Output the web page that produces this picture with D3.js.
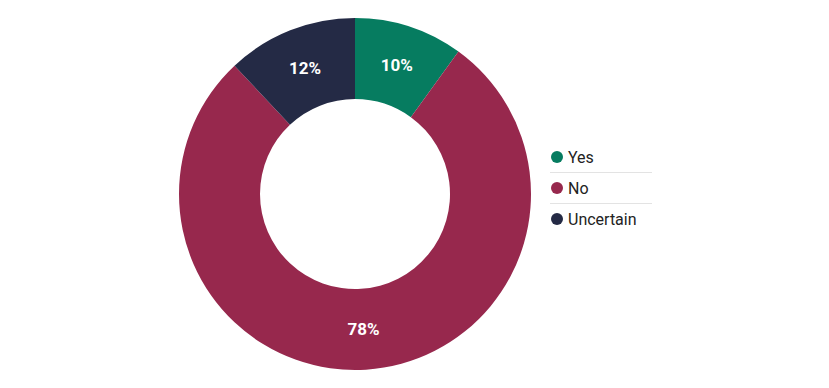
<!DOCTYPE html>
<html><head><meta charset="utf-8">
<script src="https://cdn.jsdelivr.net/npm/d3@7"></script>
<style>body{margin:0;background:#fff;}svg{display:block;font-family:Roboto,"Noto Sans",sans-serif;}</style>
</head><body>
<svg id="c" width="829" height="388"></svg>
<script>
const categories = ["Yes", "No", "Uncertain"];
const values = [10, 78, 12];
const colors = ["#067c60", "#97284d", "#242a45"];

const svg = d3.select("#c");
const cx = 355, cy = 194, outerR = 176, innerR = 95;
const g = svg.append("g").attr("transform", `translate(${cx},${cy})`);
const data = categories.map((c, i) => ({cat: c, value: values[i], color: colors[i]}));
const pie = d3.pie().value(d => d.value).sort(null);
const arc = d3.arc().innerRadius(innerR).outerRadius(outerR);
const arcs = pie(data);
g.selectAll("path").data(arcs).enter().append("path")
  .attr("d", arc).attr("fill", d => d.data.color);
g.selectAll("text").data(arcs).enter().append("text")
  .attr("transform", d => `translate(${arc.centroid(d)})`)
  .attr("text-anchor", "middle").attr("dy", "0.35em")
  .attr("fill", "#fff").attr("font-size", 17).attr("font-weight", "bold")
  .text(d => d.data.value + "%");

const lg = svg.append("g").attr("transform", "translate(557,157)");
data.forEach((d, i) => {
  const y = i * 31;
  lg.append("circle").attr("cx", 0).attr("cy", y).attr("r", 6).attr("fill", d.color);
  lg.append("text").attr("x", 11).attr("y", y).attr("dy", "0.35em")
    .attr("font-size", 16).attr("fill", "#222").text(d.cat);
  if (i < data.length - 1) {
    lg.append("line").attr("x1", -7).attr("x2", 95).attr("y1", y + 15.5).attr("y2", y + 15.5)
      .attr("stroke", "#e3e3e3").attr("stroke-width", 1);
  }
});
</script>
</body></html>
